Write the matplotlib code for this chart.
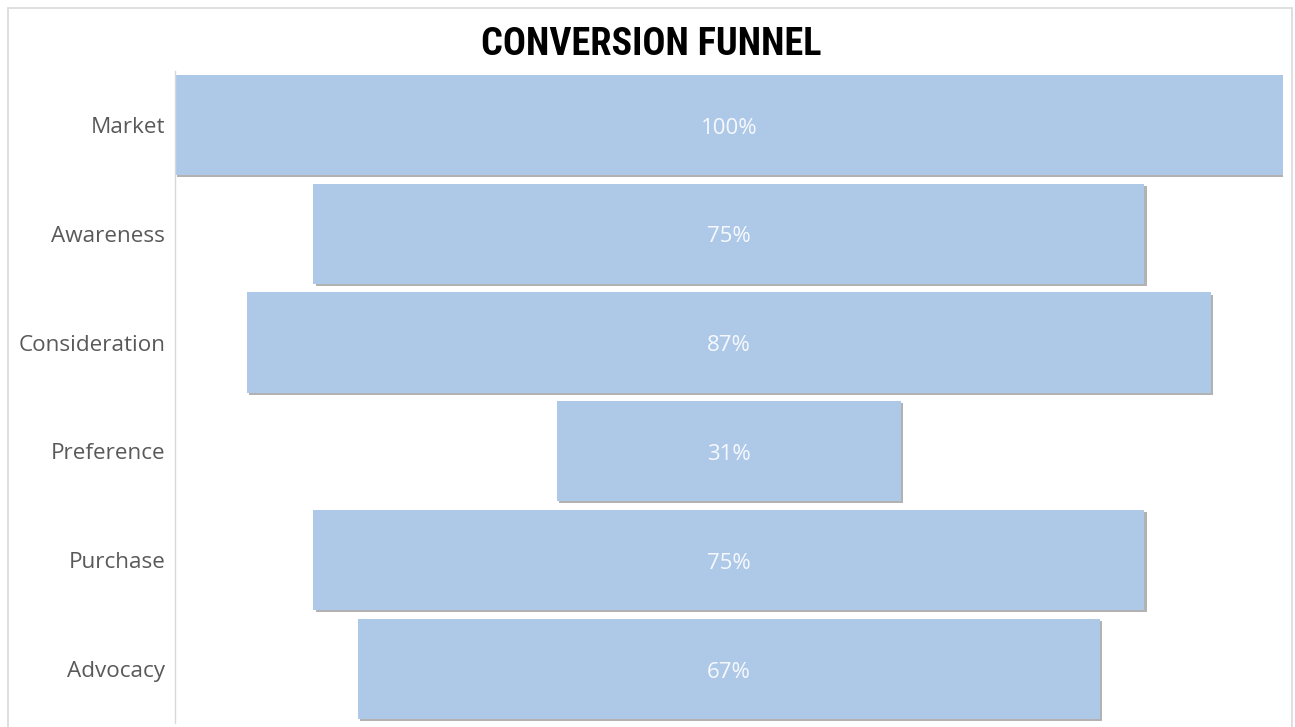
import matplotlib
matplotlib.use("Agg")
import matplotlib.pyplot as plt
import matplotlib.patheffects as pe
from matplotlib.patches import Rectangle
from matplotlib import font_manager

# funnel stages and their share of the market
stages = ['Market', 'Awareness', 'Consideration', 'Preference', 'Purchase', 'Advocacy']
values = [100, 75, 87, 31, 75, 67]
labels = ['100%', '75%', '87%', '31%', '75%', '67%']

bar_color = '#aec8e8'

fig = plt.figure(figsize=(12.95, 7.27), dpi=100)
ax = fig.add_axes([0.1351, 0.005, 0.8556, 0.898])

ypos = list(range(len(stages)))
lefts = [-v / 2 for v in values]
shadow = [pe.SimplePatchShadow(offset=(1.5, -1.5), shadow_rgbFace='#7f7f7f', alpha=0.6), pe.Normal()]
bars = ax.barh(ypos, values, left=lefts, height=0.92, color=bar_color, zorder=2)
for b in bars:
    b.set_path_effects(shadow)

for y, lab in zip(ypos, labels):
    ax.text(0, y + 0.03, lab, ha='center', va='center', color='white', fontsize=16,
            family=['Open Sans', 'DejaVu Sans'], alpha=0.9, zorder=3)

ax.set_xlim(-50, 50)
ax.set_ylim(len(stages) - 0.5, -0.5)
ax.set_yticks(ypos)
ax.set_yticklabels(stages, family=['Open Sans', 'DejaVu Sans'], fontsize=16.2, color='#595959')
ax.tick_params(axis='y', length=0, pad=7)
ax.set_xticks([])
for s in ['top', 'right', 'bottom']:
    ax.spines[s].set_visible(False)
ax.spines['left'].set_color('#d9d9d9')
ax.spines['left'].set_linewidth(1)

# narrow font for the title if one is around
names = {f.name for f in font_manager.fontManager.ttflist}
title_font = 'DejaVu Sans'
for cand in ['Roboto Condensed', 'Liberation Sans Narrow', 'DejaVu Sans Condensed']:
    if cand in names:
        title_font = cand
        break
fig.text(0.503, 0.939, 'CONVERSION FUNNEL', ha='center', va='center', fontsize=27.5,
         fontweight='semibold', fontstretch='condensed', family=[title_font, 'DejaVu Sans'])

# light frame around the whole chart
fig.patches.append(Rectangle((0.006, -0.01), 0.992, 0.999, transform=fig.transFigure,
                             fill=False, edgecolor='#d9d9d9', linewidth=1.2))

fig.savefig('out.png', dpi=100, facecolor='white')
